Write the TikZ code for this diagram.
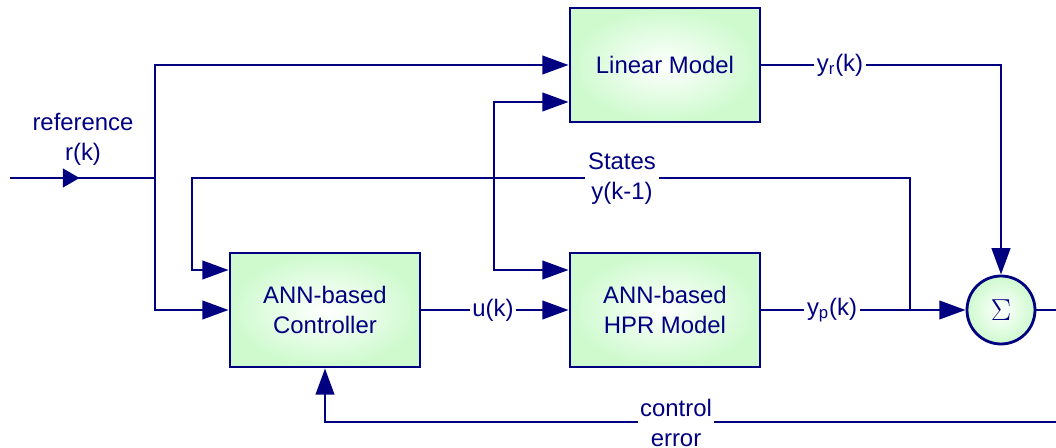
\documentclass[tikz,border=0pt]{standalone}
\usepackage{fontspec}
\setmainfont{Liberation Sans}
\usetikzlibrary{arrows.meta,decorations.markings}
\definecolor{navy}{RGB}{0,0,128}
\definecolor{boxgreen}{RGB}{206,250,206}
\begin{document}
\begin{tikzpicture}[x=0.02cm,y=-0.02cm,
  line width=1.6pt, color=navy,
  txt/.style={font=\fontsize{13.6}{17}\selectfont, text=navy, align=center},
  block/.style={txt, draw=navy, line width=1.6pt, inner color=white, outer color=boxgreen,
    minimum width=3.8cm, minimum height=2.28cm},
  sumnode/.style={circle, draw=navy, line width=1.6pt, inner color=white, outer color=boxgreen,
    minimum size=1.36cm, inner sep=0pt},
  lbl/.style={txt, fill=white, inner sep=1.5pt},
  arr/.style={-{Triangle[length=15pt,width=10.5pt]}},
  midarr/.style={postaction={decorate}, decoration={markings,
    mark=at position 0.48 with {\arrow{Triangle[length=9.5pt,width=10.5pt]}}}},
]
\useasboundingbox (0,0) rectangle (1056,448);
\clip (0,0) rectangle (1056,448);

% blocks
\node[block] (LM) at (665,65) {Linear Model};
\node[block] (ctrl) at (325,310) {ANN-based\\Controller};
\node[block] (HPR) at (665,310) {ANN-based\\HPR Model};
\node[sumnode] (sum) at (1001,310) {\fontsize{16}{16}\selectfont$\Sigma$};

% coordinates
\coordinate (in) at (10,178);
\coordinate (j1) at (155,178);
\coordinate (vb) at (494,178);
\coordinate (tap) at (910,310);
\coordinate (out) at (1070,310);
\coordinate (fb) at (1070,422);

% reference input
\draw[midarr] (in) -- (j1);
\node[txt] (reflbl) at (83,139) {reference\\r(k)};
\draw[arr] (j1) |- (LM.west);
\draw[arr] (j1) |- (ctrl.west);

% branch to Linear Model and HPR Model
\draw[arr] (vb) |- ([yshift=-0.74cm]LM.west);
\draw[arr] (vb) |- ([yshift=0.8cm]HPR.west);

% states feedback
\draw[arr] (tap) |- (192,178) |- ([yshift=0.8cm]ctrl.west);
\node[lbl] (stateslbl) at (622,179) {States\\y(k-1)};

% u(k)
\draw[arr] (ctrl.east) -- (HPR.west);
\node[lbl] (ulbl) at (493,310) {u(k)};

% outputs
\draw[arr] (LM.east) -| (sum.north);
\node[lbl] (yrlbl) at (840,65) {y\textsubscript{r}(k)};
\draw[arr] (HPR.east) -- (sum.west);
\node[lbl] (yplbl) at (832,310) {y\textsubscript{p}(k)};

% error feedback
\draw (sum.east) -- (out) -- (fb);
\draw[arr] (fb) -| (ctrl.south);
\node[lbl] (errlbl) at (676,423) {control\\error};
\end{tikzpicture}
\end{document}
